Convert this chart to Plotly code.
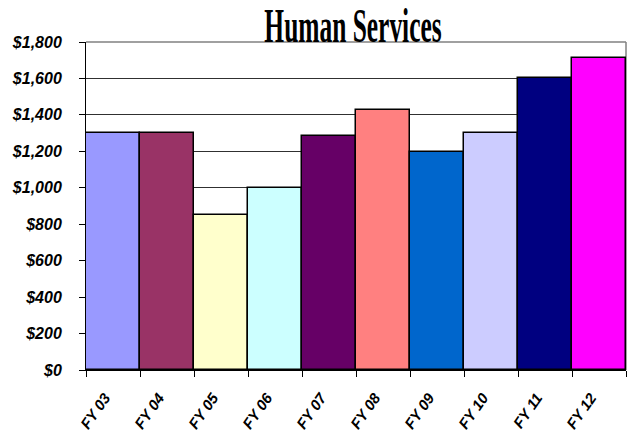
import plotly.graph_objects as go

categories = ["FY 03", "FY 04", "FY 05", "FY 06", "FY 07", "FY 08", "FY 09", "FY 10", "FY 11", "FY 12"]
values = [1300, 1300, 850, 1000, 1285, 1428, 1197, 1300, 1600, 1710]
colors = ["#9999FF", "#993366", "#FFFFCC", "#CCFFFF", "#660066", "#FF8080",
          "#0066CC", "#CCCCFF", "#000080", "#FF00FF"]
y_ticks = [0, 200, 400, 600, 800, 1000, 1200, 1400, 1600, 1800]
y_tick_labels = ["$0", "$200", "$400", "$600", "$800", "$1,000", "$1,200", "$1,400", "$1,600", "$1,800"]

fig = go.Figure(go.Bar(
    x=categories, y=values,
    marker=dict(color=colors, line=dict(color="black", width=1.5)),
))

fig.update_layout(
    width=637, height=436,
    margin=dict(l=86, r=11, t=42, b=66, autoexpand=False),
    paper_bgcolor="white", plot_bgcolor="white",
    bargap=0,
    showlegend=False,
    title=dict(
        text="Human Services",
        x=353 / 637, xanchor="center", y=1 - 25 / 436, yanchor="middle",
        font=dict(family="Liberation Serif, Times New Roman, serif", size=48, color="black"),
    ),
    xaxis=dict(
        showgrid=False, showline=True, linecolor="black", linewidth=1,
        ticks="outside", tickson="boundaries", ticklen=6, tickcolor="black",
        tickangle=-55,
        tickvals=categories,
        ticktext=["<b><i>%s</i></b>" % c for c in categories],
        tickfont=dict(family="Liberation Sans, Arial", size=15, color="black",
                      weight="bold", style="italic"),
        ticklabelstandoff=12, ticklabelshift=-8,
    ),
    yaxis=dict(
        range=[0, 1800], tickvals=y_ticks,
        ticktext=["<b><i>%s</i></b>" % t for t in y_tick_labels],
        showgrid=True, gridcolor="#303030", gridwidth=1,
        showline=True, linecolor="black", linewidth=1,
        ticks="outside", ticklen=6, tickcolor="black",
        ticklabelstandoff=14,
        tickfont=dict(family="Liberation Sans, Arial", size=16, color="black",
                      weight="bold", style="italic"),
        zeroline=False,
    ),
    shapes=[
        dict(type="line", xref="paper", yref="paper", x0=0, x1=1, y0=1, y1=1,
             line=dict(color="#808080", width=1.5), layer="above"),
        dict(type="line", xref="paper", yref="paper", x0=1, x1=1, y0=0, y1=1,
             line=dict(color="#808080", width=1.5), layer="below"),
    ],
)

post = """
document.body.style.margin = '0';
var t = document.querySelector('.gtitle');
if (t) {
  t.style.fontWeight = 'bold';
  t.style.transformBox = 'fill-box';
  t.style.transformOrigin = 'center';
  t.style.transform = 'scaleX(0.53)';
}
"""

fig.write_html("out.html", post_script=post, config={"displayModeBar": False})
